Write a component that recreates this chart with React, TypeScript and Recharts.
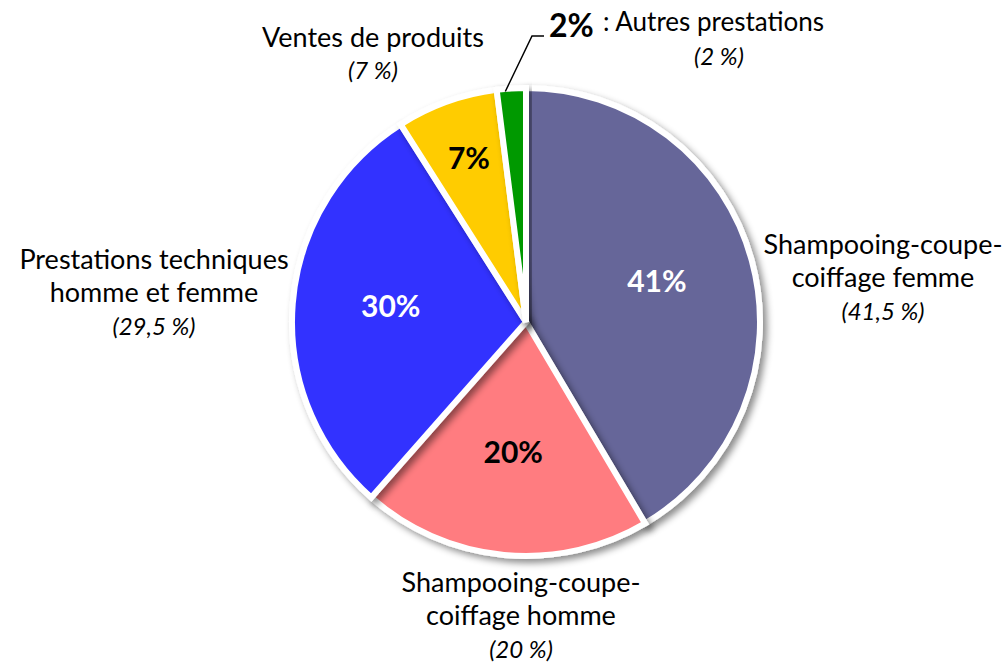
import { PieChart, Pie, Cell } from "recharts";

const labels = [
  "Shampooing-coupe-coiffage femme",
  "Shampooing-coupe-coiffage homme",
  "Prestations techniques homme et femme",
  "Ventes de produits",
  "Autres prestations",
];
const shares = [41.5, 20, 29.5, 7, 2];
const rounded = ["41%", "20%", "30%", "7%", "2%"];
const noteLines = [
  ["Shampooing-coupe-", "coiffage femme", "(41,5 %)"],
  ["Shampooing-coupe-", "coiffage homme", "(20 %)"],
  ["Prestations techniques", "homme et femme", "(29,5 %)"],
  ["Ventes de produits", "(7 %)"],
  [": Autres prestations", "(2 %)"],
];
const colors = ["#666699", "#FF7C80", "#3333FF", "#FFCC00", "#009900"];

const data = labels.map((name, i) => ({ name, value: shares[i] }));

const FONT = "Lato, 'Open Sans', sans-serif";
const RADIAN = Math.PI / 180;

// where the outside notes sit, relative to the pie centre
const notePos = [
  { dx: 357, dy: -79 },
  { dx: -5, dy: 259 },
  { dx: -372, dy: -64 },
  { dx: -153, dy: -286 },
  { dx: 193, dy: -267 },
];

function renderLabel(props: any) {
  const { cx, cy, midAngle, outerRadius, index } = props;
  const small = shares[index] < 10;
  const r = outerRadius * (small ? 0.72 : 0.58);
  const x = cx + r * Math.cos(-midAngle * RADIAN);
  const y = cy + r * Math.sin(-midAngle * RADIAN) - 6;
  const inside = index === 0 || index === 2 ? "#ffffff" : "#000000";
  const p = notePos[index];
  const lines = noteLines[index];

  if (index === 4) {
    const ex = cx + outerRadius * Math.cos(-midAngle * RADIAN);
    const ey = cy + outerRadius * Math.sin(-midAngle * RADIAN);
    return (
      <g>
        <polyline
          points={`${ex - 6},${ey + 3} ${cx + 6},${cy - 286} ${cx + 18},${cy - 286}`}
          fill="none"
          stroke="#000"
          strokeWidth={1.5}
        />
        <text x={cx + 23} y={cy - 298} fontFamily={FONT} fontSize={32} fontWeight={700} fill="#000" dominantBaseline="central">
          {rounded[index]}
        </text>
        <text x={cx + 77} y={cy - 301} fontFamily={FONT} fontSize={26} fill="#000" dominantBaseline="central">
          {lines[0]}
        </text>
        <text x={p.dx + cx} y={cy + p.dy} fontFamily={FONT} fontSize={24} fontStyle="italic" fill="#000" textAnchor="middle" dominantBaseline="central">
          {lines[1]}
        </text>
      </g>
    );
  }

  return (
    <g>
      <text x={x} y={y} fill={inside} fontFamily={FONT} fontSize={30} fontWeight={700} textAnchor="middle" dominantBaseline="central">
        {rounded[index]}
      </text>
      {lines.map((t, k) => {
        const last = k === lines.length - 1;
        return (
          <text
            key={k}
            x={cx + p.dx}
            y={cy + p.dy + k * 33.5}
            fill="#000"
            fontFamily={FONT}
            fontSize={last ? 24 : 27}
            fontStyle={last ? "italic" : "normal"}
            textAnchor="middle"
            dominantBaseline="central"
          >
            {t}
          </text>
        );
      })}
    </g>
  );
}

export default function App() {
  return (
    <div style={{ position: "absolute", left: 0, top: 0, width: 1002, height: 663, background: "#fff" }}>
      <PieChart width={1002} height={663}>
        <defs>
          <filter id="sliceShadow" x="-20%" y="-20%" width="140%" height="140%">
            <feDropShadow dx={4} dy={4} stdDeviation={3.5} floodColor="#000" floodOpacity={0.45} />
          </filter>
        </defs>
        <Pie
          data={data}
          dataKey="value"
          nameKey="name"
          cx={521}
          cy={317}
          outerRadius={234}
          startAngle={90}
          endAngle={-270}
          stroke="#ffffff"
          strokeWidth={6}
          label={renderLabel}
          labelLine={false}
          isAnimationActive={false}
        >
          {data.map((d, i) => (
            <Cell key={d.name} fill={colors[i]} filter="url(#sliceShadow)" />
          ))}
        </Pie>
      </PieChart>
    </div>
  );
}
